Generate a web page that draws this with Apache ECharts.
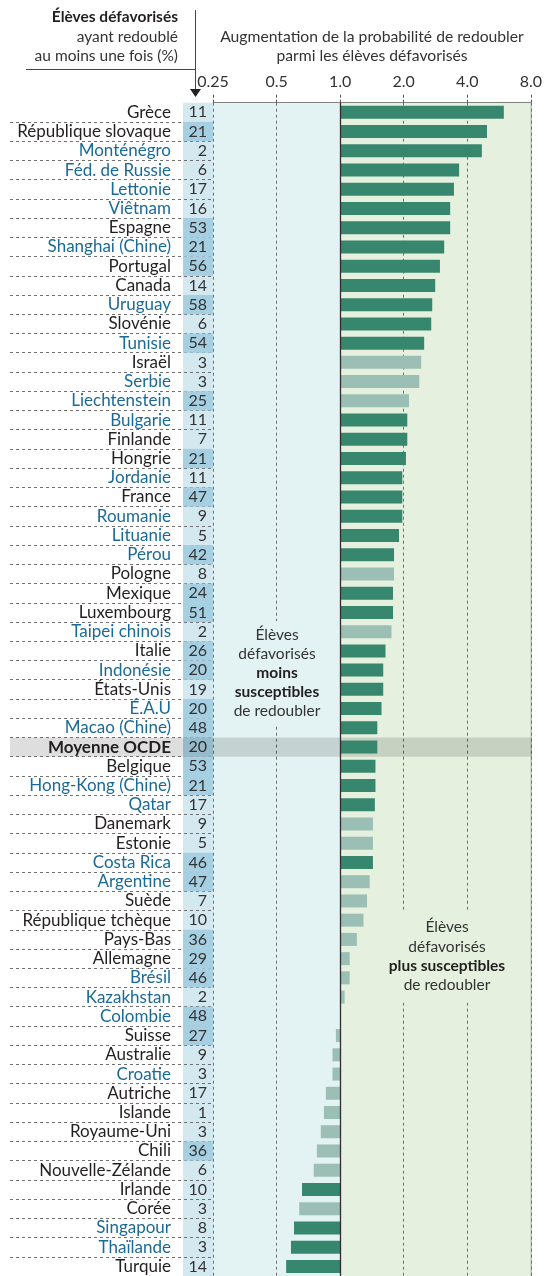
<!DOCTYPE html>
<html>
<head>
<meta charset="utf-8">
<script src="https://cdn.jsdelivr.net/npm/echarts@6/dist/echarts.min.js"></script>
<style>
  html, body { margin: 0; padding: 0; background: #fff; }
  #chart { width: 545px; height: 1276px; }
</style>
</head>
<body>
<div id="chart"></div>
<script>
// pays / économies, du haut vers le bas
const countries = [
  'Grèce', 'République slovaque', 'Monténégro', 'Féd. de Russie', 'Lettonie', 'Viêtnam',
  'Espagne', 'Shanghai (Chine)', 'Portugal', 'Canada', 'Uruguay', 'Slovénie', 'Tunisie',
  'Israël', 'Serbie', 'Liechtenstein', 'Bulgarie', 'Finlande', 'Hongrie', 'Jordanie',
  'France', 'Roumanie', 'Lituanie', 'Pérou', 'Pologne', 'Mexique', 'Luxembourg',
  'Taipei chinois', 'Italie', 'Indonésie', 'États-Unis', 'É.A.U', 'Macao (Chine)',
  'Moyenne OCDE', 'Belgique', 'Hong-Kong (Chine)', 'Qatar', 'Danemark', 'Estonie',
  'Costa Rica', 'Argentine', 'Suède', 'République tchèque', 'Pays-Bas', 'Allemagne',
  'Brésil', 'Kazakhstan', 'Colombie', 'Suisse', 'Australie', 'Croatie', 'Autriche',
  'Islande', 'Royaume-Uni', 'Chili', 'Nouvelle-Zélande', 'Irlande', 'Corée',
  'Singapour', 'Thaïlande', 'Turquie'
];

// élèves défavorisés ayant redoublé au moins une fois (%)
const repeatShare = [
  11, 21, 2, 6, 17, 16, 53, 21, 56, 14, 58, 6, 54,
  3, 3, 25, 11, 7, 21, 11, 47, 9, 5, 42, 8, 24, 51,
  2, 26, 20, 19, 20, 48, 20, 53, 21, 17, 9, 5,
  46, 47, 7, 10, 36, 29, 46, 2, 48, 27, 9, 3, 17,
  1, 3, 36, 6, 10, 3, 8, 3, 14
];

// augmentation de la probabilité de redoubler (rapport de cotes)
const oddsRatio = [
  5.96, 4.96, 4.69, 3.66, 3.46, 3.32, 3.32, 3.11, 2.97, 2.82, 2.73, 2.70, 2.50,
  2.42, 2.37, 2.12, 2.08, 2.08, 2.05, 1.97, 1.97, 1.97, 1.90, 1.80, 1.80, 1.78, 1.78,
  1.75, 1.64, 1.60, 1.60, 1.57, 1.50, 1.50, 1.47, 1.47, 1.46, 1.43, 1.43,
  1.43, 1.38, 1.34, 1.29, 1.20, 1.11, 1.11, 1.05, 1.00, 0.955, 0.92, 0.92, 0.856,
  0.838, 0.81, 0.776, 0.75, 0.66, 0.64, 0.605, 0.585, 0.555
];

// 1 = statistiquement significatif (barre foncée)
const significant = [
  1, 1, 1, 1, 1, 1, 1, 1, 1, 1, 1, 1, 1,
  0, 0, 0, 1, 1, 1, 1, 1, 1, 1, 1, 0, 1, 1,
  0, 1, 1, 1, 1, 1, 1, 1, 1, 1, 0, 0,
  1, 0, 0, 0, 0, 0, 0, 0, 0, 0, 0, 0, 0,
  0, 0, 0, 0, 1, 0, 1, 1, 1
];

// pays partenaires (libellés en bleu)
const partners = [
  'Monténégro', 'Féd. de Russie', 'Lettonie', 'Viêtnam', 'Shanghai (Chine)', 'Uruguay',
  'Tunisie', 'Serbie', 'Liechtenstein', 'Bulgarie', 'Jordanie', 'Roumanie', 'Lituanie',
  'Pérou', 'Taipei chinois', 'Indonésie', 'É.A.U', 'Macao (Chine)', 'Hong-Kong (Chine)',
  'Qatar', 'Costa Rica', 'Argentine', 'Brésil', 'Kazakhstan', 'Colombie', 'Croatie',
  'Singapour', 'Thaïlande'
];

const tickLabels = ['0.25', '0.5', '1.0', '2.0', '4.0', '8.0'];

const FONT = 'Lato, "Open Sans", sans-serif';
const DARK = '#231f20';
const BLUE = '#1b6a96';
const BG_LEFT = '#e3f2f2';
const BG_RIGHT = '#e5f0df';
const ROW = 19.3;
const TOP = 102.7;
const gridH = ROW * countries.length;
const avgName = 'Moyenne OCDE';
const oecdAvg = repeatShare[countries.indexOf(avgName)];
const LBL = 17;

const dash = { color: '#707070', type: [3, 3], width: 1 };

const chart = echarts.init(document.getElementById('chart'));

const option = {
  animation: false,
  textStyle: { fontFamily: FONT },
  grid: [
    { left: 213, width: 319, top: TOP, height: gridH, show: true,
      borderColor: '#3a3a3a', borderWidth: 1, backgroundColor: 'transparent' },
    { left: 10, width: 203, top: TOP, height: gridH }
  ],
  xAxis: [
    {
      type: 'log', logBase: 2, min: 0.25, max: 8, interval: 1,
      gridIndex: 0, position: 'top',
      axisLine: { show: false },
      axisTick: { show: true, length: 10, lineStyle: { color: '#555', type: [3, 2] } },
      axisLabel: { margin: 13, fontSize: 16, color: '#333', fontFamily: FONT,
        formatter: (v, i) => tickLabels[i] },
      splitLine: { show: true, lineStyle: dash },
      splitArea: { show: true, areaStyle: { color: [BG_LEFT, BG_LEFT, BG_RIGHT, BG_RIGHT, BG_RIGHT] } }
    },
    { type: 'value', gridIndex: 1, min: 0, max: 1, show: false }
  ],
  yAxis: [
    {
      type: 'category', gridIndex: 0, data: countries, inverse: true,
      axisLine: { show: false }, axisTick: { show: false }, axisLabel: { show: false },
      splitLine: { show: true, showMinLine: false, lineStyle: dash }
    },
    {
      type: 'category', gridIndex: 1, data: countries, inverse: true, position: 'right', z: 4,
      axisLine: { show: false }, axisTick: { show: false },
      axisLabel: {
        inside: true, margin: 42, interval: 0,
        formatter: (v) => {
          const k = v === avgName ? 'avg' : (partners.includes(v) ? 'p' : 'o');
          return '{' + k + '|' + v + '}';
        },
        rich: {
          o: { color: DARK, fontSize: LBL, fontFamily: FONT },
          p: { color: BLUE, fontSize: LBL, fontFamily: FONT },
          avg: { color: DARK, fontSize: LBL, fontFamily: FONT, fontWeight: 'bold' }
        }
      },
      splitLine: { show: true, showMinLine: false, lineStyle: dash }
    },
    {
      type: 'category', gridIndex: 1, data: countries, inverse: true, position: 'right', z: 4,
      axisLine: { show: false }, axisTick: { show: false }, splitLine: { show: false },
      axisLabel: {
        inside: true, margin: 0, interval: 0,
        formatter: (v, i) => '{' + (repeatShare[i] >= oecdAvg ? 'hi' : 'lo') + '|' + repeatShare[i] + '}',
        rich: {
          hi: { backgroundColor: '#a7cfe2', width: 24, height: ROW, lineHeight: ROW,
                align: 'right', padding: [0, 6, 0, 0], color: '#333', fontSize: 16, fontFamily: FONT },
          lo: { width: 24, height: ROW, lineHeight: ROW,
                align: 'right', padding: [0, 6, 0, 0], color: '#333', fontSize: 16, fontFamily: FONT }
        }
      }
    }
  ],
  series: [{
    type: 'bar',
    xAxisIndex: 0, yAxisIndex: 0,
    barWidth: 13,
    data: oddsRatio.map((v, i) => ({
      value: v,
      itemStyle: { color: significant[i] ? '#37876f' : '#9bbfb4' }
    })),
    markLine: {
      silent: true, symbol: 'none', label: { show: false },
      lineStyle: { color: '#2e2e2e', type: 'solid', width: 1.3 },
      data: [{ xAxis: 1 }]
    }
  }]
};

chart.setOption(option);

// éléments graphiques : colonne des %, bande OCDE, annotations, en-têtes
const avgY = chart.convertToPixel({ yAxisIndex: 0 }, avgName);
const txt = (text, x, y, align, size) => ({
  type: 'text', z: 5,
  style: { text: text, x: x, y: y, textAlign: align, align: align,
           textVerticalAlign: 'middle', verticalAlign: 'middle',
           font: (size || 15.5) + 'px ' + FONT, fill: '#333' }
});
const bold = (t, x, y, a, size) => {
  const e = txt(t, x, y, a);
  e.style.font = 'bold ' + (size || 15.5) + 'px ' + FONT;
  e.style.fill = DARK;
  return e;
};

chart.setOption({
  graphic: [
    { type: 'rect', z: 1, shape: { x: 183, y: TOP, width: 30, height: gridH }, style: { fill: '#d4e8f0' } },
    { type: 'rect', z: 1, shape: { x: 10, y: avgY - ROW / 2, width: 522, height: ROW },
      style: { fill: 'rgba(0,0,0,0.13)' } },
    // voile gris au-dessus de la cellule OCDE
    { type: 'rect', z: 5, shape: { x: 183, y: avgY - ROW / 2, width: 30, height: ROW },
      style: { fill: 'rgba(0,0,0,0.1)' } },

    // annotation gauche
    { type: 'rect', z: 3, shape: { x: 216, y: 621, width: 121, height: 104 }, style: { fill: BG_LEFT } },
    txt('Élèves', 277, 635, 'center'),
    txt('défavorisés', 277, 654, 'center'),
    bold('moins', 277, 673, 'center'),
    bold('susceptibles', 277, 692, 'center'),
    txt('de redoubler', 277, 711, 'center'),

    // annotation droite
    { type: 'rect', z: 3, shape: { x: 380, y: 910, width: 130, height: 90 }, style: { fill: BG_RIGHT } },
    txt('Élèves', 447, 927, 'center'),
    txt('défavorisés', 447, 947, 'center'),
    bold('plus susceptibles', 447, 966, 'center'),
    txt('de redoubler', 447, 985, 'center'),

    // en-têtes
    bold('Élèves défavorisés', 178, 17, 'right', 15.5),
    txt('ayant redoublé', 178, 37, 'right'),
    txt('au moins une fois (%)', 178, 56, 'right'),
    txt('Augmentation de la probabilité de redoubler', 372, 37, 'center', 15.7),
    txt('parmi les élèves défavorisés', 372, 56, 'center', 15.7),
    { type: 'line', z: 5, shape: { x1: 195.5, y1: 10, x2: 195.5, y2: 90 }, style: { stroke: '#444', lineWidth: 1 } },
    { type: 'line', z: 5, shape: { x1: 26, y1: 69.5, x2: 195.5, y2: 69.5 }, style: { stroke: '#444', lineWidth: 1 } },
    { type: 'polygon', z: 5, shape: { points: [[190, 89], [201, 89], [195.5, 97]] }, style: { fill: '#222' } }
  ]
});
</script>
</body>
</html>
